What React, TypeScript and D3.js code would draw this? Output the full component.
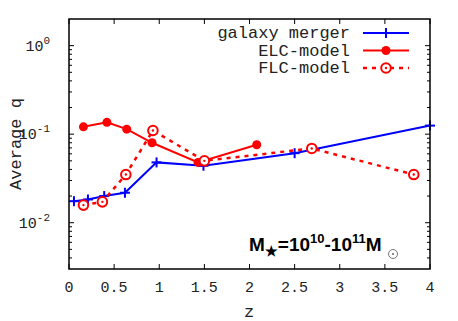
import React from "react";
import * as d3 from "d3";

const mergerZ = [0.055, 0.21, 0.39, 0.62, 0.97, 1.49, 2.5, 4.0];
const mergerQ = [0.0175, 0.0183, 0.02, 0.0218, 0.048, 0.044, 0.061, 0.125];
const elcZ = [0.16, 0.42, 0.64, 0.92, 1.43, 2.08];
const elcQ = [0.121, 0.136, 0.114, 0.08, 0.048, 0.076];
const flcZ = [0.16, 0.37, 0.63, 0.93, 1.5, 2.69, 3.82];
const flcQ = [0.0158, 0.0172, 0.035, 0.11, 0.05, 0.069, 0.035];
const xTicks = [0, 0.5, 1, 1.5, 2, 2.5, 3, 3.5, 4];
const xTickLabels = ["0", "0.5", "1", "1.5", "2", "2.5", "3", "3.5", "4"];
const yMajor = [1e-2, 1e-1, 1e0];
const yMajorExp = ["-2", "-1", "0"];
const legendLabels = ["galaxy merger", "ELC-model", "FLC-model"];

const W = 458, H = 321;
const L = 69, R = 430, T = 19, B = 269;
const BLUE = "#0000ff";
const RED = "#ff0000";

export default function App() {
  const x = d3.scaleLinear().domain([0, 4]).range([L, R]);
  const y = d3.scaleLog().domain([0.003, 2]).range([B, T]);
  const line = d3.line<[number, number]>().x(d => x(d[0])).y(d => y(d[1]));
  const merger = mergerZ.map((z, i) => [z, mergerQ[i]] as [number, number]);
  const elc = elcZ.map((z, i) => [z, elcQ[i]] as [number, number]);
  const flc = flcZ.map((z, i) => [z, flcQ[i]] as [number, number]);

  const minor: number[] = [];
  for (let e = -3; e <= 0; e++) {
    for (let m = 2; m <= 9; m++) {
      const v = m * Math.pow(10, e);
      if (v > 0.003 && v < 2) minor.push(v);
    }
  }
  const mono = "'Liberation Mono', 'DejaVu Sans Mono', monospace";
  const cross = (cx: number, cy: number, k: string) => (
    <g key={k} stroke={BLUE} strokeWidth={2}>
      <line x1={cx - 5} x2={cx + 5} y1={cy} y2={cy} />
      <line x1={cx} x2={cx} y1={cy - 5} y2={cy + 5} />
    </g>
  );
  const openC = (cx: number, cy: number, k: string) => (
    <g key={k}>
      <circle cx={cx} cy={cy} r={4.8} fill="white" stroke={RED} strokeWidth={2} />
      <circle cx={cx} cy={cy} r={1.2} fill={RED} />
    </g>
  );
  const legY = [33, 50.5, 68];
  const legX1 = 363, legX2 = 409, legTX = 350;

  return (
    <svg width={W} height={H} style={{ position: "absolute", left: 0, top: 0, background: "white" }}>
      {/* ticks */}
      {xTicks.map((t, i) => (
        <g key={"xt" + i}>
          <line x1={x(t)} x2={x(t)} y1={B} y2={B - 5} stroke="#000" strokeWidth={1} />
          <line x1={x(t)} x2={x(t)} y1={T} y2={T + 5} stroke="#000" strokeWidth={1} />
          <text x={x(t)} y={B + 23} textAnchor="middle" fontFamily={mono} fontSize={15} fill="#222">
            {xTickLabels[i]}
          </text>
        </g>
      ))}
      {yMajor.map((v, i) => (
        <g key={"ym" + i}>
          <line x1={L} x2={L + 5} y1={y(v)} y2={y(v)} stroke="#000" />
          <line x1={R} x2={R - 5} y1={y(v)} y2={y(v)} stroke="#000" />
          <text x={L - 19} y={y(v) + 5} textAnchor="end" fontFamily={mono} fontSize={15} fill="#222">
            10<tspan dy={-7} fontSize={11}>{yMajorExp[i]}</tspan>
          </text>
        </g>
      ))}
      {minor.map((v, i) => (
        <g key={"yn" + i}>
          <line x1={L} x2={L + 3} y1={y(v)} y2={y(v)} stroke="#000" />
          <line x1={R} x2={R - 3} y1={y(v)} y2={y(v)} stroke="#000" />
        </g>
      ))}
      {/* series */}
      <path d={line(merger) || ""} fill="none" stroke={BLUE} strokeWidth={2} />
      {merger.map((d, i) => cross(x(d[0]), y(d[1]), "m" + i))}
      <path d={line(elc) || ""} fill="none" stroke={RED} strokeWidth={2} />
      {elc.map((d, i) => (
        <circle key={"e" + i} cx={x(d[0])} cy={y(d[1])} r={4.5} fill={RED} />
      ))}
      <path d={line(flc) || ""} fill="none" stroke={RED} strokeWidth={2.5} strokeDasharray="4,5" />
      {flc.map((d, i) => openC(x(d[0]), y(d[1]), "f" + i))}
      {/* frame */}
      <rect x={L} y={T} width={R - L} height={B - T} fill="none" stroke="#000" strokeWidth={1.5} />
      {/* legend */}
      {legendLabels.map((s, i) => (
        <text key={"lt" + i} x={legTX} y={legY[i] + 5} textAnchor="end" fontFamily={mono} fontSize={17} fill="#222">
          {s}
        </text>
      ))}
      <line x1={legX1} x2={legX2} y1={legY[0]} y2={legY[0]} stroke={BLUE} strokeWidth={2} />
      {cross((legX1 + legX2) / 2, legY[0], "lc")}
      <line x1={legX1} x2={legX2} y1={legY[1]} y2={legY[1]} stroke={RED} strokeWidth={2} />
      <circle cx={(legX1 + legX2) / 2} cy={legY[1]} r={4.5} fill={RED} />
      <line x1={legX1} x2={legX2} y1={legY[2]} y2={legY[2]} stroke={RED} strokeWidth={2.5} strokeDasharray="4,5" />
      {openC((legX1 + legX2) / 2, legY[2], "lo")}
      {/* axis labels */}
      <text x={249} y={317} textAnchor="middle" fontFamily={mono} fontSize={17} fill="#222">z</text>
      <text transform={`translate(21,${(T + B) / 2}) rotate(-90)`} textAnchor="middle" fontFamily={mono} fontSize={17} fill="#222">
        Average q
      </text>
      {/* annotation */}
      <text x={249} y={251} fontFamily="'Liberation Sans', Arial, sans-serif" fontWeight="bold" fontSize={19} fill="#000">
        M<tspan fontSize={14} dy={5}>★</tspan><tspan dy={-5}>=10</tspan><tspan fontSize={13} dy={-8}>10</tspan><tspan dy={8}>-10</tspan><tspan fontSize={13} dy={-8}>11</tspan><tspan dy={8}>M</tspan>
      </text>
      <circle cx={393} cy={254} r={4.5} fill="none" stroke="#555" strokeWidth={0.8} />
      <circle cx={393} cy={254} r={0.9} fill="#555" />
    </svg>
  );
}
